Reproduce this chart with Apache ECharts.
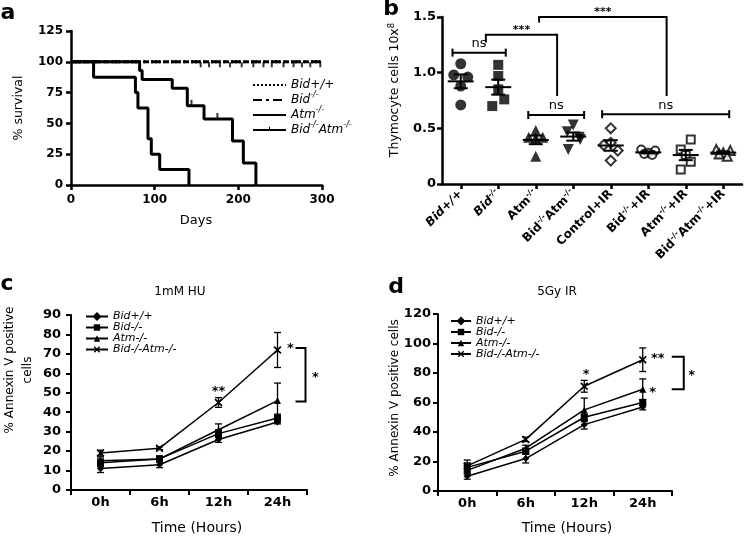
<!DOCTYPE html>
<html>
<head>
<meta charset="utf-8">
<script src="https://cdn.jsdelivr.net/npm/echarts@6/dist/echarts.min.js"></script>
<style>html,body{margin:0;padding:0;background:#fff;}#chart{width:744px;height:536px;}</style>
</head>
<body>
<div id="chart"></div>
<script>
// ---------- Panel a: survival ----------
const a_bidWT_days = [0, 300];
const a_bidWT_surv = [100, 100];
const a_bidKO_days = [0, 300];
const a_bidKO_surv = [100, 100];
const a_bidKO_censorDays = [155, 165, 178, 190, 204, 218, 230, 240, 254, 266, 276, 286, 298];
const a_atm_days = [0, 27, 77, 80, 92, 96, 106, 141];
const a_atm_surv = [100, 87.5, 75, 62.5, 37.5, 25, 12.5, 0];
const a_bidAtm_days = [0, 82, 85, 121, 139, 159, 193, 206, 221];
const a_bidAtm_surv = [100, 92.9, 85.7, 78.6, 64.3, 53.6, 35.7, 17.9, 0];
const a_bidAtm_censorDays = [144, 175];
const a_bidAtm_censorSurv = [64.3, 53.6];

// ---------- Panel b: thymocyte counts (x10^8) ----------
const b_categories = ['Bid+/+', 'Bid-/-', 'Atm-/-', 'Bid-/-Atm-/-', 'Control+IR', 'Bid-/-+IR', 'Atm-/-+IR', 'Bid-/-Atm-/-+IR'];
const b_bidWT = [1.08, 0.98, 0.96, 0.88, 0.71];
const b_bidKO = [1.07, 0.97, 0.85, 0.76, 0.70];
const b_atm = [0.48, 0.42, 0.42, 0.41, 0.25];
const b_bidAtm = [0.53, 0.47, 0.42, 0.40, 0.31];
const b_ctrlIR = [0.50, 0.37, 0.35, 0.30, 0.21];
const b_bidIR = [0.31, 0.30, 0.28, 0.27, 0.26];
const b_atmIR = [0.40, 0.31, 0.26, 0.20, 0.13];
const b_bidAtmIR = [0.31, 0.30, 0.28, 0.27, 0.25];
// significance brackets (category-index units / y values)
const b_sigX1 = [-0.22, 1.8, 3.77, 0.67, 2.09];
const b_sigX2 = [1.2, 3.29, 7.16, 2.57, 5.49];
const b_sigY = [1.18, 0.62, 0.627, 1.34, 1.5];
const b_sigYL = [1.18, 0.62, 0.627, 1.27, 1.45];
const b_sigYR = [1.18, 0.62, 0.627, 0.79, 0.79];
const b_sigText = ['ns', 'ns', 'ns', '***', '***'];

// ---------- Panels c, d: % Annexin V positive ----------
const timeCats = ['0h', '6h', '12h', '24h'];
const c_bidWT = [11, 13, 26, 35];      const c_bidWT_se = [2, 1.5, 1.5, 1];
const c_bidKO = [14, 16, 29, 37];      const c_bidKO_se = [2, 1.5, 2, 2];
const c_atm = [15, 16, 31, 46];        const c_atm_se = [2, 1, 3, 9];
const c_bidAtm = [19, 21.5, 45, 72];   const c_bidAtm_se = [1.5, 0.7, 2.5, 9];
const c_starCat = [2, 3];  const c_starVal = [52, 74];  const c_starText = ['**', '*'];
const c_bracket = [3, 73, 45.5];  const c_bracketText = '*';

const d_bidWT = [10, 22, 45, 57];      const d_bidWT_se = [2, 3, 3, 2];
const d_bidKO = [16, 27, 50, 60];      const d_bidKO_se = [3, 2, 2, 2];
const d_atm = [14, 29, 55, 69];        const d_atm_se = [3, 2, 8, 7];
const d_bidAtm = [17, 35, 71, 89];     const d_bidAtm_se = [4, 1.5, 4, 8];
const d_starCat = [2, 3, 3];  const d_starVal = [81, 92, 68.5];  const d_starText = ['*', '**', '*'];
const d_bracket = [3, 91, 69];  const d_bracketText = '*';

// ---------- helpers ----------
const F = 'DejaVu Sans';
const K = '#000';
const pairs = (xs, ys) => xs.map((x, i) => [x, ys[i]]);
const mean = a => a.reduce((s, v) => s + v, 0) / a.length;
const sem = a => { const m = mean(a); return Math.sqrt(a.reduce((s, v) => s + (v - m) * (v - m), 0) / (a.length - 1) / a.length); };

const chart = echarts.init(document.getElementById('chart'));

function axisCommon(w, labelSize, margin, bold) {
  return {
    axisLine: {show: true, onZero: false, lineStyle: {color: K, width: w}},
    axisTick: {show: true, length: 5, lineStyle: {color: K, width: w}},
    axisLabel: {color: K, fontFamily: F, fontSize: labelSize, fontWeight: bold ? 'bold' : 'normal', margin: margin},
    splitLine: {show: false}
  };
}
function merge(a, b) { return Object.assign({}, a, b); }

// rich formatting of genotype names with superscript -/-
function richName(name, base) {
  const parts = name.split('-/-');
  let out = '';
  parts.forEach((p, i) => {
    if (p) out += '{' + base + '|' + p + '}';
    if (i < parts.length - 1) out += '{' + base + 's|-/-}';
  });
  return out;
}

// ---------- axes ----------
const grids = [
  {left: 71, top: 31, width: 251, height: 154},
  {left: 442, top: 17, width: 300, height: 167},
  {left: 71, top: 315, width: 236, height: 175},
  {left: 438, top: 314, width: 234, height: 177}
];

const bLabelRich = {
  n: {fontFamily: F, fontSize: 12, fontWeight: 'bold', color: K, lineHeight: 15},
  ns: {fontFamily: F, fontSize: 8, fontWeight: 'bold', color: K, lineHeight: 8, verticalAlign: 'top'},
  it: {fontFamily: F, fontSize: 12, fontWeight: 'bold', fontStyle: 'italic', color: K, lineHeight: 15},
  its: {fontFamily: F, fontSize: 8, fontWeight: 'bold', fontStyle: 'italic', color: K, lineHeight: 8, verticalAlign: 'top'}
};

const xAxes = [
  merge(axisCommon(2.5, 12, 9, true), {type: 'value', gridIndex: 0, min: 0, max: 300, interval: 100}),
  (function () {
    const o = axisCommon(2.5, 12, 8, true);
    o.type = 'category'; o.gridIndex = 1; o.data = b_categories; o.boundaryGap = true;
    o.axisTick.alignWithLabel = true;
    o.axisLabel = {interval: 0, rotate: 45, margin: 8,
      formatter: v => richName(v, (v === 'Bid+/+' || v === 'Bid-/-') ? 'it' : 'n'), rich: bLabelRich};
    return o;
  })(),
  merge(axisCommon(2, 13, 6, true), {type: 'category', gridIndex: 2, data: timeCats, boundaryGap: true}),
  merge(axisCommon(2, 13, 6, true), {type: 'category', gridIndex: 3, data: timeCats, boundaryGap: true})
];
const yAxes = [
  merge(axisCommon(2.5, 12, 8, true), {type: 'value', gridIndex: 0, min: 0, max: 125, interval: 25}),
  (function () {
    const o = merge(axisCommon(2.5, 13, 6, true), {type: 'value', gridIndex: 1, min: 0, max: 1.5, interval: 0.5});
    o.axisLabel = merge(o.axisLabel, {formatter: v => v === 0 ? '0' : v.toFixed(1)});
    return o;
  })(),
  merge(axisCommon(2, 13, 10, true), {type: 'value', gridIndex: 2, min: 0, max: 90, interval: 10}),
  merge(axisCommon(2, 13, 7, true), {type: 'value', gridIndex: 3, min: 0, max: 120, interval: 20})
];

// ---------- series ----------
const series = [];
const tickPath = 'path://M0,0h0.001v10h-0.001z M4.2,0h1.6v5h-1.6z M9.999,0h0.001v10h-0.001z';
function survLine(name, days, surv, type, step, symbol) {
  series.push({type: 'line', name: name, xAxisIndex: 0, yAxisIndex: 0, data: pairs(days, surv),
    step: step, symbol: symbol || 'none', showSymbol: false, animation: false,
    lineStyle: {color: K, width: 3, type: type}, itemStyle: {color: K}, z: 3});
}
survLine('a:Bid+/+', a_bidWT_days, a_bidWT_surv, [2, 2], false);
survLine('a:Bid-/-', a_bidKO_days, a_bidKO_surv, [9, 4, 3, 4], false);
survLine('a:Atm-/-', a_atm_days, a_atm_surv, 'solid', 'end');
survLine('a:Bid-/-Atm-/-', a_bidAtm_days, a_bidAtm_surv, 'solid', 'end', tickPath);
series.push({type: 'scatter', name: 'censorA1', xAxisIndex: 0, yAxisIndex: 0, silent: true,
  data: pairs(a_bidAtm_censorDays, a_bidAtm_censorSurv), symbol: 'rect', symbolSize: [2, 6], symbolOffset: [0, -3],
  itemStyle: {color: K}, z: 4, animation: false});
series.push({type: 'scatter', name: 'censorA2', xAxisIndex: 0, yAxisIndex: 0, silent: true,
  data: a_bidKO_censorDays.map(d => [d, 100]), symbol: 'rect', symbolSize: [2, 5], symbolOffset: [0, 3],
  itemStyle: {color: K}, z: 4, animation: false});

// panel b scatter
const b_groups = [b_bidWT, b_bidKO, b_atm, b_bidAtm, b_ctrlIR, b_bidIR, b_atmIR, b_bidAtmIR];
const b_sym = [
  {symbol: 'circle', size: 11, open: false, rot: 0},
  {symbol: 'rect', size: 10, open: false, rot: 0},
  {symbol: 'triangle', size: 11, open: false, rot: 0},
  {symbol: 'triangle', size: 11, open: false, rot: 180},
  {symbol: 'rect', size: 7, open: true, rot: 45},
  {symbol: 'circle', size: 8, open: true, rot: 0},
  {symbol: 'rect', size: 8, open: true, rot: 0},
  {symbol: 'triangle', size: 9, open: true, rot: 0}
];
const b_jitter = [[0, -7, 7, 0, 0], [0, 0, 0, 6, -6], [0, -7, 7, 0, 0], [0, -6, 6, 7, -5], [0, 0, -7, 7, 0], [-7, 7, 0, -4, 4], [5, -5, 0, 5, -5], [-7, 7, 0, -4, 4]];
b_groups.forEach((g, gi) => {
  const s = b_sym[gi];
  series.push({type: 'scatter', name: 'b:' + b_categories[gi], xAxisIndex: 1, yAxisIndex: 1, animation: false,
    data: g.map((v, i) => ({value: [gi, v], symbolOffset: [b_jitter[gi][i], 0]})),
    symbol: s.symbol, symbolSize: s.size, symbolRotate: s.rot,
    itemStyle: s.open ? {color: '#fff', borderColor: K, borderWidth: 2} : {color: K}, z: 3});
});
// mean +/- SEM
series.push({type: 'custom', name: 'b:mean', xAxisIndex: 1, yAxisIndex: 1, animation: false, z: 5,
  data: b_groups.map((g, gi) => [gi, mean(g), sem(g)]),
  renderItem: (params, api) => {
    const x = api.value(0), m = api.value(1), s = api.value(2);
    const pm = api.coord([x, m]), pt = api.coord([x, m + s]), pb = api.coord([x, m - s]);
    const st = {stroke: K, lineWidth: 2};
    return {type: 'group', children: [
      {type: 'line', shape: {x1: pm[0] - 13, y1: pm[1], x2: pm[0] + 13, y2: pm[1]}, style: st},
      {type: 'line', shape: {x1: pt[0], y1: pt[1], x2: pb[0], y2: pb[1]}, style: st},
      {type: 'line', shape: {x1: pt[0] - 7, y1: pt[1], x2: pt[0] + 7, y2: pt[1]}, style: st},
      {type: 'line', shape: {x1: pb[0] - 7, y1: pb[1], x2: pb[0] + 7, y2: pb[1]}, style: st}
    ]};
  }});
// significance brackets
series.push({type: 'custom', name: 'b:sig', xAxisIndex: 1, yAxisIndex: 1, animation: false, z: 6, silent: true,
  data: b_sigX1.map((x, i) => [i, b_sigY[i]]),
  renderItem: (params, api) => {
    const i = params.dataIndex;
    const c0 = api.coord([0, 0])[0], c1 = api.coord([1, 0])[0];
    const fx = f => c0 + f * (c1 - c0);
    const fy = v => api.coord([0, v])[1];
    const x1 = fx(b_sigX1[i]), x2 = fx(b_sigX2[i]), y = fy(b_sigY[i]);
    const st = {stroke: K, lineWidth: 2, fill: null};
    const ch = [];
    if (b_sigText[i] === 'ns') {
      ch.push({type: 'line', shape: {x1: x1, y1: y, x2: x2, y2: y}, style: st});
      ch.push({type: 'line', shape: {x1: x1, y1: y - 4, x2: x1, y2: y + 4}, style: st});
      ch.push({type: 'line', shape: {x1: x2, y1: y - 4, x2: x2, y2: y + 4}, style: st});
      ch.push({type: 'text', x: (x1 + x2) / 2, y: y - 9, style: {text: 'ns', fill: K, font: '13px ' + F, align: 'center', verticalAlign: 'middle'}});
    } else {
      ch.push({type: 'polyline', shape: {points: [[x1, fy(b_sigYL[i])], [x1, y], [x2, y], [x2, fy(b_sigYR[i])]]}, style: st});
      ch.push({type: 'text', x: (x1 + x2) / 2, y: y - 5, style: {text: b_sigText[i], fill: K, font: 'bold 11px ' + F, align: 'center', verticalAlign: 'middle'}});
    }
    return {type: 'group', children: ch};
  }});

// panels c, d lines
const crossPath = 'path://M0,1.5L1.5,0L5,3.5L8.5,0L10,1.5L6.5,5L10,8.5L8.5,10L5,6.5L1.5,10L0,8.5L3.5,5Z';
const lineSyms = [
  {symbol: 'rect', size: 5, rot: 45},
  {symbol: 'rect', size: 7, rot: 0},
  {symbol: 'triangle', size: 7, rot: 0},
  {symbol: crossPath, size: 8, rot: 0}
];
const groupNames = ['Bid+/+', 'Bid-/-', 'Atm-/-', 'Bid-/-Atm-/-'];
function timePanel(prefix, axis, vals, ses, starCat, starVal, starText, starDx, bracket, bracketText, bDx, bArm, bTextDx) {
  vals.forEach((v, gi) => {
    const s = lineSyms[gi];
    series.push({type: 'line', name: prefix + groupNames[gi], xAxisIndex: axis, yAxisIndex: axis, data: v,
      symbol: s.symbol, symbolSize: s.size, symbolRotate: s.rot, showSymbol: true, animation: false,
      lineStyle: {color: K, width: 1.5}, itemStyle: {color: K}, z: 3});
  });
  const ebData = [];
  vals.forEach((v, gi) => v.forEach((m, k) => ebData.push([k, m, ses[gi][k]])));
  series.push({type: 'custom', name: prefix + 'err', xAxisIndex: axis, yAxisIndex: axis, animation: false, z: 4, silent: true,
    data: ebData,
    renderItem: (params, api) => {
      const x = api.value(0), m = api.value(1), s = api.value(2);
      const pt = api.coord([x, m + s]), pb = api.coord([x, m - s]);
      const st = {stroke: K, lineWidth: 1.3};
      return {type: 'group', children: [
        {type: 'line', shape: {x1: pt[0], y1: pt[1], x2: pb[0], y2: pb[1]}, style: st},
        {type: 'line', shape: {x1: pt[0] - 3.5, y1: pt[1], x2: pt[0] + 3.5, y2: pt[1]}, style: st},
        {type: 'line', shape: {x1: pb[0] - 3.5, y1: pb[1], x2: pb[0] + 3.5, y2: pb[1]}, style: st}
      ]};
    }});
  series.push({type: 'custom', name: prefix + 'stars', xAxisIndex: axis, yAxisIndex: axis, animation: false, z: 5, silent: true,
    data: starCat.map((c, i) => [c, starVal[i]]),
    renderItem: (params, api) => {
      const i = params.dataIndex;
      const p = api.coord([api.value(0), api.value(1)]);
      return {type: 'text', x: p[0] + starDx[i], y: p[1] + 3, style: {text: starText[i], fill: K, font: 'bold 13px ' + F, align: 'center', verticalAlign: 'middle'}};
    }});
  series.push({type: 'custom', name: prefix + 'bracket', xAxisIndex: axis, yAxisIndex: axis, animation: false, z: 5, silent: true,
    data: [[bracket[0], bracket[1], bracket[2]]],
    renderItem: (params, api) => {
      const pt = api.coord([api.value(0), api.value(1)]), pb = api.coord([api.value(0), api.value(2)]);
      const x1 = pt[0] + bDx, x2 = x1 + bArm;
      return {type: 'group', children: [
        {type: 'polyline', shape: {points: [[x1, pt[1]], [x2, pt[1]], [x2, pb[1]], [x1, pb[1]]]}, style: {stroke: K, lineWidth: 2, fill: null}},
        {type: 'text', x: x2 + bTextDx, y: (pt[1] + pb[1]) / 2 + 3, style: {text: bracketText, fill: K, font: 'bold 13px ' + F, align: 'center', verticalAlign: 'middle'}}
      ]};
    }});
}
timePanel('c:', 2, [c_bidWT, c_bidKO, c_atm, c_bidAtm], [c_bidWT_se, c_bidKO_se, c_atm_se, c_bidAtm_se],
  c_starCat, c_starVal, c_starText, [0, 13], c_bracket, c_bracketText, 18, 10, 10);
timePanel('d:', 3, [d_bidWT, d_bidKO, d_atm, d_bidAtm], [d_bidWT_se, d_bidKO_se, d_atm_se, d_bidAtm_se],
  d_starCat, d_starVal, d_starText, [2, 15, 10], d_bracket, d_bracketText, 29, 12, 8);

// ---------- legends ----------
const aRich = {
  i: {fontFamily: F, fontSize: 12, fontStyle: 'italic', color: K, lineHeight: 18},
  is: {fontFamily: F, fontSize: 8, fontStyle: 'italic', color: K, lineHeight: 9, verticalAlign: 'top'}
};
const legends = [
  {data: [{name: 'a:Bid+/+'}, {name: 'a:Bid-/-'}, {name: 'a:Atm-/-'}, {name: 'a:Bid-/-Atm-/-', itemStyle: {opacity: 1}}],
   left: 252, top: 79, orient: 'vertical', itemWidth: 33, itemHeight: 8, itemGap: 0, padding: 0, selectedMode: false,
   itemStyle: {opacity: 0},
   formatter: n => richName(n.slice(2), 'i'), textStyle: {rich: aRich}},
  {data: groupNames.map(n => 'c:' + n), left: 85, top: 311, orient: 'vertical', itemWidth: 22, itemHeight: 8, itemGap: 0, padding: 0, selectedMode: false,
   formatter: n => '{i|' + n.slice(2) + '}', textStyle: {rich: {i: {fontFamily: F, fontSize: 11, fontStyle: 'italic', color: K, lineHeight: 19.2}}}},
  {data: groupNames.map(n => 'd:' + n), left: 450, top: 315.5, orient: 'vertical', itemWidth: 20, itemHeight: 8, itemGap: 0, padding: 0, selectedMode: false,
   formatter: n => '{i|' + n.slice(2) + '}', textStyle: {rich: {i: {fontFamily: F, fontSize: 11, fontStyle: 'italic', color: K, lineHeight: 18.9}}}}
];

// ---------- text graphics ----------
function txt(x, y, text, font, rot, extra) {
  return {type: 'text', x: x, y: y, rotation: rot || 0, z: 10,
    style: Object.assign({text: text, font: font, fill: K, align: 'center', verticalAlign: 'middle'}, extra || {})};
}
const graphics = [
  txt(8, 13, 'a', 'bold 22px ' + F),
  txt(391, 9, 'b', 'bold 22px ' + F),
  txt(7, 284, 'c', 'bold 22px ' + F),
  txt(396, 287, 'd', 'bold 22px ' + F),
  txt(19, 108, '% survival', '12.5px ' + F, Math.PI / 2),
  txt(196, 221, 'Days', '13px ' + F),
  txt(395, 90, '{n|Thymocyte cells 10x}{s|8}', '12px ' + F, Math.PI / 2,
      {rich: {n: {fontFamily: F, fontSize: 12.5, color: K, lineHeight: 16}, s: {fontFamily: F, fontSize: 8.5, color: K, lineHeight: 9, verticalAlign: 'top'}}}),
  txt(180, 292, '1mM HU', '12px ' + F),
  txt(557, 292, '5Gy IR', '12px ' + F),
  txt(19, 370, '% Annexin V positive\ncells', '12px ' + F, Math.PI / 2, {lineHeight: 18}),
  txt(395, 398, '% Annexin V positive cells', '12px ' + F, Math.PI / 2),
  txt(197, 528, 'Time (Hours)', '14px ' + F),
  txt(567, 528, 'Time (Hours)', '14px ' + F)
];

chart.setOption({
  animation: false,
  backgroundColor: '#fff',
  textStyle: {fontFamily: F, color: K},
  grid: grids,
  xAxis: xAxes,
  yAxis: yAxes,
  legend: legends,
  series: series,
  graphic: graphics
});
</script>
</body>
</html>
